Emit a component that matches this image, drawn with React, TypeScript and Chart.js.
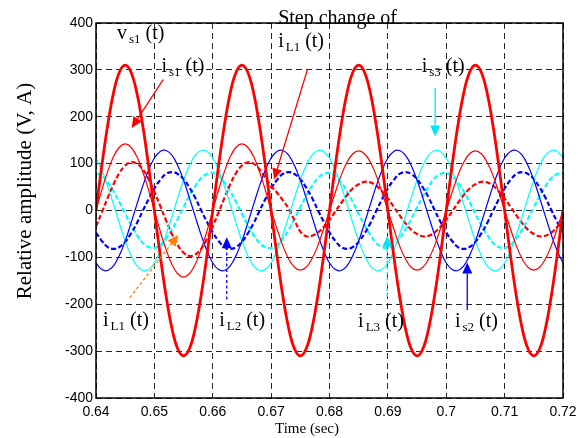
import React, { useEffect, useRef } from "react";
import { Chart, registerables } from "chart.js";

Chart.register(...registerables);

// Sampling instants (s)
const time = [
  0.640, 0.641, 0.642, 0.643, 0.644, 0.645, 0.646, 0.647, 0.648, 0.649,
  0.650, 0.651, 0.652, 0.653, 0.654, 0.655, 0.656, 0.657, 0.658, 0.659,
  0.660, 0.661, 0.662, 0.663, 0.664, 0.665, 0.666, 0.667, 0.668, 0.669,
  0.670, 0.671, 0.672, 0.673, 0.674, 0.675, 0.676, 0.677, 0.678, 0.679,
  0.680, 0.681, 0.682, 0.683, 0.684, 0.685, 0.686, 0.687, 0.688, 0.689,
  0.690, 0.691, 0.692, 0.693, 0.694, 0.695, 0.696, 0.697, 0.698, 0.699,
  0.700, 0.701, 0.702, 0.703, 0.704, 0.705, 0.706, 0.707, 0.708, 0.709,
  0.710, 0.711, 0.712, 0.713, 0.714, 0.715, 0.716, 0.717, 0.718, 0.719,
  0.720,
];

// v_s1(t) – source voltage (V)
const vs1 = [
  0, 96, 182, 251, 295, 310, 295, 251, 182, 96, 0, -96, -182, -251, -295, -310, -295, -251, -182, -96,
  0, 96, 182, 251, 295, 310, 295, 251, 182, 96, 0, -96, -182, -251, -295, -310, -295, -251, -182, -96,
  0, 96, 182, 251, 295, 310, 295, 251, 182, 96, 0, -96, -182, -251, -295, -310, -295, -251, -182, -96,
  0, 96, 182, 251, 295, 310, 295, 251, 182, 96, 0, -96, -182, -251, -295, -310, -295, -251, -182, -96,
  0,
];

// i_s1(t), i_s2(t), i_s3(t) – source currents (A)
const is1 = [
  0, 44, 83, 115, 135, 142, 135, 115, 83, 44, 0, -44, -83, -115, -135, -142, -135, -115, -83, -44,
  0, 44, 83, 115, 135, 142, 135, 115, 83, 44, 0, -39, -75, -103, -121, -127, -121, -103, -75, -39,
  0, 39, 75, 103, 121, 127, 121, 103, 75, 39, 0, -39, -75, -103, -121, -127, -121, -103, -75, -39,
  0, 39, 75, 103, 121, 127, 121, 103, 75, 39, 0, -39, -75, -103, -121, -127, -121, -103, -75, -39,
  0,
];
const is2 = [
  -112, -126, -128, -118, -96, -65, -27, 13, 52, 86, 112, 126, 128, 118, 96, 65, 27, -13, -52, -86,
  -112, -126, -128, -118, -96, -65, -27, 13, 52, 86, 112, 126, 128, 118, 96, 65, 27, -13, -52, -86,
  -112, -126, -128, -118, -96, -65, -27, 13, 52, 86, 112, 126, 128, 118, 96, 65, 27, -13, -52, -86,
  -112, -126, -128, -118, -96, -65, -27, 13, 52, 86, 112, 126, 128, 118, 96, 65, 27, -13, -52, -86,
  -112,
];
const is3 = [
  112, 86, 52, 13, -27, -65, -96, -118, -128, -126, -112, -86, -52, -13, 27, 65, 96, 118, 128, 126,
  112, 86, 52, 13, -27, -65, -96, -118, -128, -126, -112, -86, -52, -13, 27, 65, 96, 118, 128, 126,
  112, 86, 52, 13, -27, -65, -96, -118, -128, -126, -112, -86, -52, -13, 27, 65, 96, 118, 128, 126,
  112, 86, 52, 13, -27, -65, -96, -118, -128, -126, -112, -86, -52, -13, 27, 65, 96, 118, 128, 126,
  112,
];

// i_L1(t), i_L2(t), i_L3(t) – load currents (A); step change of i_L1 near 0.67 s
const iL1 = [
  -34, -4, 27, 56, 80, 96, 103, 100, 88, 67, 40, 10, -21, -50, -74, -90, -97, -94, -82, -61,
  -34, -4, 27, 56, 80, 96, 103, 100, 88, 70, 52, 38, 22, 4, -21, -45, -55, -54, -47, -35,
  -20, -2, 16, 33, 47, 56, 61, 60, 53, 41, 26, 8, -10, -27, -41, -50, -55, -54, -47, -35,
  -20, -2, 16, 33, 47, 56, 61, 60, 53, 41, 26, 8, -10, -27, -41, -50, -55, -54, -47, -35,
  -20,
];
const iL2 = [
  -47, -65, -78, -82, -78, -67, -49, -27, -1, 24, 47, 65, 78, 82, 78, 67, 49, 27, 1, -24,
  -47, -65, -78, -82, -78, -67, -49, -27, -1, 24, 47, 65, 78, 82, 78, 67, 49, 27, 1, -24,
  -47, -65, -78, -82, -78, -67, -49, -27, -1, 24, 47, 65, 78, 82, 78, 67, 49, 27, 1, -24,
  -47, -65, -78, -82, -78, -67, -49, -27, -1, 24, 47, 65, 78, 82, 78, 67, 49, 27, 1, -24,
  -47,
];
const iL3 = [
  80, 74, 60, 41, 18, -7, -31, -52, -69, -78, -80, -74, -60, -41, -18, 7, 31, 52, 69, 78,
  80, 74, 60, 41, 18, -7, -31, -52, -69, -78, -80, -74, -60, -41, -18, 7, 31, 52, 69, 78,
  80, 74, 60, 41, 18, -7, -31, -52, -69, -78, -80, -74, -60, -41, -18, 7, 31, 52, 69, 78,
  80, 74, 60, 41, 18, -7, -31, -52, -69, -78, -80, -74, -60, -41, -18, 7, 31, 52, 69, 78,
  80,
];

// Annotation texts (data coordinates: left edge, baseline)
const labels = [
  { main: "Step change of", sub: "", rest: "", t: 0.6712, v: 398 },
  { main: "v", sub: "s1", rest: " (t)", t: 0.6436, v: 366 },
  { main: "i", sub: "s1", rest: " (t)", t: 0.6512, v: 296 },
  { main: "i", sub: "L1", rest: " (t)", t: 0.6712, v: 349 },
  { main: "i", sub: "s3", rest: " (t)", t: 0.6958, v: 296 },
  { main: "i", sub: "L1", rest: " (t)", t: 0.6412, v: -246 },
  { main: "i", sub: "L2", rest: " (t)", t: 0.6611, v: -246 },
  { main: "i", sub: "L3", rest: " (t)", t: 0.6849, v: -248 },
  { main: "i", sub: "s2", rest: " (t)", t: 0.7015, v: -248 },
];

// Annotation arrows (data coordinates: tail -> head)
const arrows = [
  { t0: 0.6515, v0: 279, t1: 0.6461, v1: 176, color: "#ff0000", dashed: false },
  { t0: 0.6762, v0: 300, t1: 0.6705, v1: 66, color: "#ff0000", dashed: false },
  { t0: 0.6981, v0: 262, t1: 0.6981, v1: 158, color: "#00e5ff", dashed: false },
  { t0: 0.6458, v0: -186, t1: 0.6541, v1: -52, color: "#ff8000", dashed: true },
  { t0: 0.6624, v0: -190, t1: 0.6624, v1: -57, color: "#0000ff", dashed: true },
  { t0: 0.6899, v0: -184, t1: 0.6899, v1: -54, color: "#00e5ff", dashed: true },
  { t0: 0.7036, v0: -212, t1: 0.7036, v1: -111, color: "#0000ff", dashed: false },
];

const SERIF = '"Liberation Serif", "Times New Roman", Times, serif';
const SANS = 'Arial, "Liberation Sans", Helvetica, sans-serif';

const pts = (vals: number[]) => vals.map((y, i) => ({ x: time[i], y }));

const overlay = {
  id: "overlay",
  afterDraw(chart: any) {
    const { ctx, chartArea, scales } = chart;
    const xs = scales.x;
    const ys = scales.y;
    ctx.save();

    // frame
    ctx.setLineDash([]);
    ctx.strokeStyle = "#000";
    ctx.lineWidth = 1.5;
    ctx.strokeRect(
      chartArea.left,
      chartArea.top,
      chartArea.right - chartArea.left,
      chartArea.bottom - chartArea.top
    );

    // arrows
    for (const a of arrows) {
      const x0 = xs.getPixelForValue(a.t0);
      const y0 = ys.getPixelForValue(a.v0);
      const x1 = xs.getPixelForValue(a.t1);
      const y1 = ys.getPixelForValue(a.v1);
      const ang = Math.atan2(y1 - y0, x1 - x0);
      const len = 11;
      const hw = 5;
      const bx = x1 - len * Math.cos(ang);
      const by = y1 - len * Math.sin(ang);
      ctx.strokeStyle = a.color;
      ctx.fillStyle = a.color;
      ctx.lineWidth = 1.3;
      ctx.setLineDash(a.dashed ? [3, 2.5] : []);
      ctx.beginPath();
      ctx.moveTo(x0, y0);
      ctx.lineTo(bx, by);
      ctx.stroke();
      ctx.setLineDash([]);
      ctx.beginPath();
      ctx.moveTo(x1, y1);
      ctx.lineTo(bx + hw * Math.sin(ang), by - hw * Math.cos(ang));
      ctx.lineTo(bx - hw * Math.sin(ang), by + hw * Math.cos(ang));
      ctx.closePath();
      ctx.fill();
    }

    // labels
    ctx.fillStyle = "#000";
    ctx.textBaseline = "alphabetic";
    ctx.textAlign = "left";
    for (const l of labels) {
      let x = xs.getPixelForValue(l.t);
      const y = ys.getPixelForValue(l.v);
      ctx.font = `20px ${SERIF}`;
      ctx.fillText(l.main, x, y);
      x += ctx.measureText(l.main).width;
      if (l.sub) {
        x += 2;
        ctx.font = `13px ${SERIF}`;
        ctx.fillText(l.sub, x, y + 4);
        x += ctx.measureText(l.sub).width;
      }
      if (l.rest) {
        ctx.font = `20px ${SERIF}`;
        ctx.fillText(l.rest, x, y);
      }
    }

    // axis titles
    ctx.font = `15px ${SERIF}`;
    ctx.textAlign = "left";
    ctx.fillText("Time (sec)", chartArea.left + 179, chartArea.bottom + 35);

    ctx.save();
    ctx.translate(chartArea.left - 65.5, chartArea.top + 168);
    ctx.rotate(-Math.PI / 2);
    ctx.font = `21px ${SERIF}`;
    ctx.textAlign = "center";
    ctx.fillText("Relative amplitude (V, A)", 0, 0);
    ctx.restore();

    ctx.restore();
  },
};

export default function App() {
  const ref = useRef<HTMLCanvasElement | null>(null);

  useEffect(() => {
    if (!ref.current) return;
    const thin = 1.2;
    const chart = new Chart(ref.current, {
      type: "line",
      data: {
        datasets: [
          { label: "vs1", data: pts(vs1), borderColor: "#ff0000", borderWidth: 2.8 },
          { label: "is1", data: pts(is1), borderColor: "#ff0000", borderWidth: thin },
          { label: "is2", data: pts(is2), borderColor: "#0000ff", borderWidth: thin },
          { label: "is3", data: pts(is3), borderColor: "#00ffff", borderWidth: thin },
          { label: "iL1", data: pts(iL1), borderColor: "#ff0000", borderWidth: 2.2, borderDash: [5, 2.5] },
          { label: "iL2", data: pts(iL2), borderColor: "#0000ff", borderWidth: 2.2, borderDash: [5, 2.5] },
          { label: "iL3", data: pts(iL3), borderColor: "#00ffff", borderWidth: 2.2, borderDash: [5, 2.5] },
        ],
      },
      options: {
        animation: false,
        responsive: false,
        maintainAspectRatio: false,
        parsing: false as any,
        elements: {
          point: { radius: 0 },
          line: { tension: 0.4, fill: false },
        },
        layout: { padding: { left: 0, top: 23, right: 24, bottom: 0 } },
        plugins: {
          legend: { display: false },
          tooltip: { enabled: false },
          title: { display: false },
        },
        scales: {
          x: {
            type: "linear",
            min: 0.64,
            max: 0.72,
            afterFit: (s: any) => {
              s.height = 40;
            },
            ticks: {
              stepSize: 0.01,
              padding: 6,
              color: "#000",
              font: { family: SANS, size: 14 },
              maxRotation: 0,
              callback: (v: any) => String(Math.round(Number(v) * 100) / 100),
            },
            grid: {
              color: "rgba(0,0,0,0.85)",
              lineWidth: 1,
              drawTicks: false,
            },
            border: { display: false, dash: [6, 4] },
          },
          y: {
            type: "linear",
            min: -400,
            max: 400,
            afterFit: (s: any) => {
              s.width = 96;
            },
            ticks: {
              stepSize: 100,
              padding: 3,
              color: "#000",
              font: { family: SANS, size: 14 },
            },
            grid: {
              color: "rgba(0,0,0,0.85)",
              lineWidth: 1,
              drawTicks: false,
            },
            border: { display: false, dash: [6, 4] },
          },
        },
      },
      plugins: [overlay],
    });
    return () => chart.destroy();
  }, []);

  return (
    <div style={{ position: "fixed", left: 0, top: 0, width: 587, height: 438, background: "#fff" }}>
      <canvas ref={ref} width={587} height={438} style={{ display: "block", width: 587, height: 438 }} />
    </div>
  );
}
